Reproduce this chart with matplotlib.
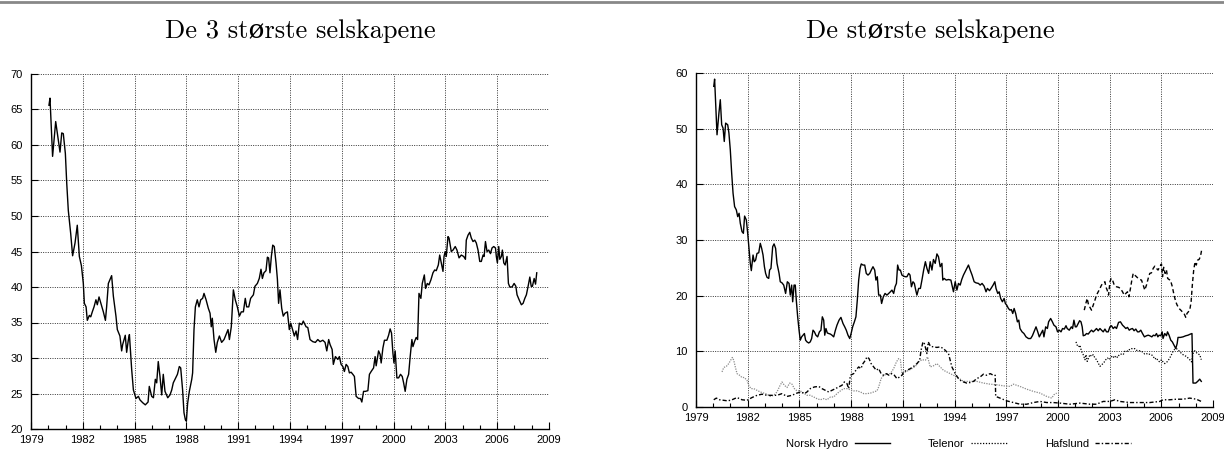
import matplotlib
matplotlib.use('Agg')
import matplotlib.pyplot as plt
from matplotlib.lines import Line2D

## Data (decimal year, value)
# Left panel: De 3 største selskapene
top3_year = [1980.04, 1980.10, 1980.25, 1980.43, 1980.53, 1980.68, 1980.78, 1980.87, 1980.99, 1981.07,
             1981.16, 1981.30, 1981.41, 1981.55, 1981.68, 1981.80, 1981.92, 1982.03, 1982.09, 1982.19,
             1982.26, 1982.38, 1982.46, 1982.55, 1982.65, 1982.76, 1982.84, 1982.94, 1983.05, 1983.19,
             1983.31, 1983.38, 1983.48, 1983.58, 1983.67, 1983.77, 1983.92, 1984.00, 1984.15, 1984.25,
             1984.31, 1984.46, 1984.54, 1984.64, 1984.70, 1984.83, 1984.93, 1985.08, 1985.22, 1985.31,
             1985.47, 1985.62, 1985.78, 1985.85, 1985.99, 1986.09, 1986.20, 1986.28, 1986.37, 1986.47,
             1986.57, 1986.66, 1986.76, 1986.92, 1987.05, 1987.15, 1987.24, 1987.34, 1987.48, 1987.59,
             1987.67, 1987.78, 1987.86, 1987.94, 1988.00, 1988.07, 1988.17, 1988.31, 1988.36, 1988.44,
             1988.52, 1988.63, 1988.73, 1988.83, 1988.94, 1989.02, 1989.14, 1989.27, 1989.37, 1989.44,
             1989.50, 1989.60, 1989.70, 1989.79, 1989.91, 1990.04, 1990.18, 1990.33, 1990.41, 1990.49,
             1990.60, 1990.72, 1990.83, 1990.95, 1991.07, 1991.18, 1991.30, 1991.41, 1991.49, 1991.61,
             1991.72, 1991.88, 1991.97, 1992.11, 1992.22, 1992.32, 1992.40, 1992.49, 1992.61, 1992.69,
             1992.76, 1992.84, 1992.92, 1993.00, 1993.09, 1993.19, 1993.27, 1993.34, 1993.42, 1993.52,
             1993.61, 1993.71, 1993.85, 1993.96, 1994.04, 1994.15, 1994.25, 1994.35, 1994.44, 1994.54,
             1994.68, 1994.77, 1994.93, 1995.03, 1995.16, 1995.32, 1995.47, 1995.61, 1995.74, 1995.90,
             1996.03, 1996.13, 1996.24, 1996.32, 1996.44, 1996.51, 1996.63, 1996.77, 1996.86, 1996.96,
             1997.06, 1997.15, 1997.25, 1997.35, 1997.44, 1997.54, 1997.64, 1997.73, 1997.83, 1997.97,
             1998.08, 1998.16, 1998.26, 1998.37, 1998.51, 1998.60, 1998.70, 1998.84, 1998.93, 1998.99,
             1999.13, 1999.22, 1999.28, 1999.38, 1999.47, 1999.61, 1999.71, 1999.80, 1999.88, 1999.96,
             2000.02, 2000.09, 2000.19, 2000.29, 2000.40, 2000.50, 2000.58, 2000.67, 2000.77, 2000.87,
             2000.96, 2001.06, 2001.12, 2001.21, 2001.31, 2001.39, 2001.47, 2001.58, 2001.66, 2001.78,
             2001.85, 2001.95, 2002.05, 2002.16, 2002.28, 2002.38, 2002.47, 2002.59, 2002.67, 2002.76,
             2002.86, 2002.92, 2002.99, 2003.05, 2003.15, 2003.21, 2003.34, 2003.44, 2003.57, 2003.67,
             2003.79, 2003.92, 2004.06, 2004.16, 2004.21, 2004.31, 2004.41, 2004.50, 2004.60, 2004.70,
             2004.79, 2004.89, 2004.99, 2005.08, 2005.18, 2005.24, 2005.32, 2005.41, 2005.51, 2005.61,
             2005.70, 2005.80, 2005.90, 2005.95, 2006.01, 2006.09, 2006.15, 2006.24, 2006.30, 2006.38,
             2006.46, 2006.57, 2006.65, 2006.73, 2006.86, 2006.98, 2007.08, 2007.15, 2007.27, 2007.40,
             2007.50, 2007.60, 2007.69, 2007.79, 2007.89, 2007.97, 2008.04, 2008.14, 2008.22, 2008.29]
top3_val = [65.6, 66.6, 58.4, 63.3, 61.6, 59.0, 61.7, 61.6, 58.8, 54.6,
            50.8, 47.5, 44.4, 46.2, 48.7, 44.3, 43.0, 40.5, 37.7, 37.2,
            35.3, 36.0, 35.8, 36.5, 37.2, 38.2, 37.5, 38.6, 37.7, 36.5,
            35.3, 37.2, 40.5, 41.1, 41.6, 38.7, 35.9, 34.0, 33.1, 31.0,
            31.9, 33.2, 30.8, 32.6, 33.3, 28.4, 25.5, 24.3, 24.6, 24.1,
            23.7, 23.4, 23.8, 26.0, 24.6, 24.4, 27.0, 26.5, 29.5, 27.4,
            24.8, 27.7, 25.3, 24.4, 24.8, 25.5, 26.5, 27.0, 27.7, 28.8,
            28.6, 25.5, 22.3, 21.3, 21.1, 23.6, 25.3, 27.0, 27.9, 34.0,
            37.2, 38.2, 37.2, 38.2, 38.4, 39.1, 38.2, 37.0, 36.3, 34.4,
            35.6, 32.6, 30.8, 32.2, 33.1, 32.2, 32.6, 33.5, 34.0, 32.6,
            34.4, 39.6, 38.2, 37.2, 35.9, 36.5, 36.5, 38.4, 37.2, 37.2,
            38.4, 38.9, 40.1, 40.5, 41.2, 42.5, 41.2, 42.0, 42.3, 44.2,
            44.1, 42.0, 44.3, 45.9, 45.7, 43.4, 41.1, 37.7, 39.6, 37.0,
            35.9, 36.3, 36.5, 34.0, 34.9, 34.0, 33.1, 33.8, 32.6, 34.9,
            34.7, 35.2, 34.4, 34.3, 32.6, 32.3, 32.2, 32.6, 32.3, 32.5,
            32.2, 31.0, 32.6, 31.9, 31.2, 29.1, 30.2, 29.8, 30.2, 29.1,
            28.8, 28.1, 29.1, 28.8, 27.9, 28.0, 27.7, 27.4, 24.6, 24.3,
            24.3, 23.8, 25.3, 25.3, 25.4, 27.7, 28.1, 28.6, 30.2, 28.9,
            31.0, 30.5, 29.3, 31.4, 32.5, 32.5, 33.2, 34.1, 33.5, 30.7,
            29.3, 31.0, 27.2, 27.2, 27.7, 27.4, 26.5, 25.3, 27.0, 27.7,
            30.2, 32.6, 31.6, 32.3, 32.9, 32.6, 39.1, 38.4, 40.5, 41.7,
            39.8, 40.5, 40.3, 41.0, 42.0, 42.4, 42.3, 43.1, 44.5, 43.4,
            42.2, 44.3, 45.0, 44.3, 47.1, 46.9, 45.0, 45.2, 45.7, 45.2,
            44.1, 44.5, 44.3, 43.9, 46.6, 47.3, 47.7, 46.9, 46.4, 46.6,
            46.2, 45.2, 43.6, 43.6, 44.5, 44.3, 46.4, 45.0, 45.2, 44.7,
            45.5, 45.7, 45.5, 44.3, 43.4, 45.7, 43.9, 44.3, 45.2, 43.4,
            43.1, 44.3, 40.5, 40.0, 40.0, 40.5, 40.1, 38.9, 38.2, 37.5,
            37.7, 38.4, 38.9, 40.1, 41.4, 40.1, 40.1, 41.2, 40.4, 42.0]

# Right panel: De største selskapene
hydro_year = [1980.03, 1980.08, 1980.22, 1980.33, 1980.41, 1980.49, 1980.57, 1980.64, 1980.72, 1980.84,
              1980.91, 1980.99, 1981.07, 1981.15, 1981.24, 1981.34, 1981.42, 1981.50, 1981.57, 1981.67,
              1981.75, 1981.82, 1981.92, 1982.00, 1982.08, 1982.15, 1982.21, 1982.31, 1982.38, 1982.46,
              1982.54, 1982.64, 1982.73, 1982.81, 1982.89, 1982.97, 1983.04, 1983.12, 1983.22, 1983.27,
              1983.35, 1983.45, 1983.53, 1983.62, 1983.70, 1983.82, 1983.89, 1983.99, 1984.09, 1984.20,
              1984.30, 1984.40, 1984.47, 1984.55, 1984.61, 1984.69, 1984.76, 1984.82, 1984.90, 1984.98,
              1985.05, 1985.13, 1985.21, 1985.29, 1985.36, 1985.44, 1985.54, 1985.63, 1985.71, 1985.79,
              1985.87, 1985.96, 1986.06, 1986.16, 1986.25, 1986.33, 1986.41, 1986.47, 1986.54, 1986.62,
              1986.70, 1986.80, 1986.89, 1986.99, 1987.09, 1987.18, 1987.30, 1987.41, 1987.53, 1987.63,
              1987.72, 1987.82, 1987.92, 1988.00, 1988.09, 1988.19, 1988.28, 1988.36, 1988.44, 1988.52,
              1988.59, 1988.69, 1988.79, 1988.88, 1988.98, 1989.08, 1989.17, 1989.27, 1989.37, 1989.44,
              1989.52, 1989.60, 1989.70, 1989.77, 1989.87, 1989.97, 1990.08, 1990.18, 1990.28, 1990.37,
              1990.47, 1990.55, 1990.63, 1990.70, 1990.78, 1990.86, 1990.95, 1991.05, 1991.15, 1991.24,
              1991.34, 1991.42, 1991.50, 1991.59, 1991.67, 1991.75, 1991.82, 1991.92, 1992.02, 1992.11,
              1992.21, 1992.31, 1992.40, 1992.50, 1992.59, 1992.69, 1992.78, 1992.88, 1992.98, 1993.07,
              1993.17, 1993.27, 1993.32, 1993.40, 1993.52, 1993.65, 1993.79, 1993.94, 1994.04, 1994.14,
              1994.23, 1994.33, 1994.42, 1994.52, 1994.68, 1994.81, 1994.91, 1995.02, 1995.14, 1995.25,
              1995.39, 1995.49, 1995.60, 1995.72, 1995.83, 1995.91, 1996.03, 1996.12, 1996.24, 1996.34,
              1996.41, 1996.51, 1996.59, 1996.68, 1996.78, 1996.88, 1996.95, 1997.03, 1997.13, 1997.22,
              1997.30, 1997.38, 1997.46, 1997.55, 1997.65, 1997.73, 1997.80, 1997.92, 1998.03, 1998.15,
              1998.29, 1998.42, 1998.52, 1998.61, 1998.73, 1998.83, 1998.92, 1999.02, 1999.12, 1999.19,
              1999.29, 1999.39, 1999.46, 1999.58, 1999.68, 1999.77, 1999.89, 1999.98, 2000.08, 2000.18,
              2000.27, 2000.37, 2000.47, 2000.54, 2000.66, 2000.78, 2000.85, 2000.93, 2001.01, 2001.08,
              2001.18, 2001.26, 2001.34, 2001.41, 2001.47, 2001.57, 2001.66, 2001.76, 2001.86, 2001.95,
              2002.05, 2002.15, 2002.24, 2002.34, 2002.44, 2002.53, 2002.63, 2002.73, 2002.82, 2002.92,
              2003.02, 2003.11, 2003.21, 2003.31, 2003.40, 2003.52, 2003.63, 2003.75, 2003.85, 2003.94,
              2004.04, 2004.14, 2004.23, 2004.33, 2004.42, 2004.52, 2004.62, 2004.71, 2004.81, 2004.91,
              2005.02, 2005.14, 2005.24, 2005.33, 2005.45, 2005.54, 2005.64, 2005.72, 2005.80, 2005.87,
              2005.97, 2006.05, 2006.10, 2006.20, 2006.30, 2006.36, 2006.45, 2006.55, 2006.64, 2006.74,
              2006.84, 2006.92, 2006.97, 2007.11, 2007.26, 2007.42, 2007.55, 2007.69, 2007.78, 2007.84,
              2008.00, 2008.11, 2008.23, 2008.32]
hydro_val = [57.6, 58.9, 48.9, 52.8, 55.2, 50.7, 50.1, 47.7, 51.0, 50.7,
             49.2, 46.2, 42.0, 38.4, 36.0, 35.4, 34.2, 34.8, 33.0, 31.5,
             31.2, 34.3, 33.6, 31.2, 28.2, 25.8, 24.5, 27.3, 26.1, 26.4,
             27.6, 27.7, 29.4, 28.5, 27.3, 25.2, 24.0, 23.3, 23.1, 24.6,
             24.9, 28.8, 29.3, 28.5, 25.8, 24.0, 22.5, 22.3, 21.9, 20.4,
             22.5, 22.2, 20.1, 21.9, 18.9, 21.9, 21.9, 19.2, 16.2, 13.8,
             12.0, 12.6, 12.9, 13.2, 12.0, 11.7, 11.5, 11.7, 12.3, 13.8,
             13.5, 12.9, 12.6, 13.5, 13.8, 16.2, 15.6, 12.9, 14.1, 13.3,
             13.2, 13.1, 12.9, 12.6, 13.8, 14.7, 15.6, 16.1, 15.0, 14.4,
             13.8, 12.9, 12.3, 13.2, 14.4, 15.3, 16.2, 19.2, 22.8, 24.9,
             25.7, 25.5, 25.5, 24.0, 23.7, 24.0, 24.6, 25.2, 24.6, 22.8,
             23.4, 20.1, 20.1, 18.6, 19.8, 20.4, 20.1, 20.4, 20.7, 21.0,
             20.4, 21.6, 22.2, 25.5, 24.6, 24.6, 23.7, 23.5, 23.4, 23.4,
             24.0, 23.7, 21.6, 22.5, 22.2, 21.0, 20.1, 21.3, 21.3, 22.8,
             24.6, 26.1, 24.9, 24.0, 26.1, 24.6, 26.5, 25.8, 27.5, 27.0,
             25.2, 25.8, 22.8, 23.1, 22.8, 22.9, 22.8, 20.7, 22.5, 21.0,
             22.2, 21.9, 22.9, 23.7, 24.7, 25.5, 24.6, 23.7, 22.5, 22.3,
             22.2, 21.9, 22.2, 21.7, 20.7, 21.3, 20.9, 21.3, 21.9, 22.5,
             21.3, 20.4, 20.7, 19.5, 18.9, 19.5, 18.6, 18.3, 17.7, 17.4,
             17.5, 16.8, 17.7, 16.8, 15.3, 15.6, 14.1, 13.5, 13.2, 12.6,
             12.3, 12.3, 12.8, 13.5, 14.4, 13.5, 12.6, 13.2, 13.8, 12.6,
             14.4, 14.1, 15.3, 15.9, 15.3, 14.7, 14.4, 13.5, 13.8, 13.5,
             14.1, 14.0, 14.6, 14.1, 13.8, 14.4, 14.1, 15.6, 14.4, 14.4,
             15.0, 15.5, 15.3, 14.4, 12.8, 12.9, 13.2, 13.1, 13.5, 13.8,
             13.5, 13.8, 14.1, 13.7, 14.1, 13.8, 13.5, 14.0, 13.5, 13.5,
             14.4, 14.6, 14.1, 14.4, 14.1, 15.2, 15.3, 14.7, 14.4, 14.1,
             14.3, 13.8, 14.0, 14.1, 13.7, 14.0, 13.5, 13.5, 13.8, 13.2,
             12.6, 12.8, 12.9, 12.8, 12.6, 12.9, 12.8, 13.2, 12.6, 12.9,
             12.8, 13.5, 12.3, 13.2, 12.8, 13.5, 12.9, 12.0, 11.7, 11.1,
             10.5, 11.4, 12.5, 12.5, 12.6, 12.8, 12.9, 13.1, 13.2, 4.3,
             4.3, 4.6, 5.0, 4.6]

statoil_year = [2001.53, 2001.63, 2001.70, 2001.78, 2001.86, 2001.95, 2002.05, 2002.15, 2002.24, 2002.34,
                2002.44, 2002.53, 2002.63, 2002.73, 2002.78, 2002.86, 2002.94, 2003.02, 2003.09, 2003.17,
                2003.27, 2003.40, 2003.52, 2003.63, 2003.75, 2003.85, 2003.94, 2004.04, 2004.12, 2004.21,
                2004.29, 2004.37, 2004.46, 2004.56, 2004.66, 2004.75, 2004.85, 2004.95, 2005.04, 2005.14,
                2005.24, 2005.33, 2005.43, 2005.53, 2005.62, 2005.72, 2005.81, 2005.91, 2006.01, 2006.07,
                2006.14, 2006.22, 2006.30, 2006.37, 2006.45, 2006.53, 2006.64, 2006.74, 2006.84, 2006.92,
                2007.03, 2007.13, 2007.22, 2007.32, 2007.42, 2007.49, 2007.57, 2007.65, 2007.73, 2007.80,
                2007.88, 2007.96, 2008.03, 2008.11, 2008.19, 2008.27, 2008.34]
statoil_val = [17.4, 18.7, 19.5, 18.3, 17.9, 17.4, 18.3, 19.2, 20.1, 20.7,
               21.3, 21.9, 22.3, 22.5, 21.6, 21.0, 20.1, 22.5, 23.1, 22.8,
               21.9, 21.6, 21.5, 21.3, 20.7, 20.1, 20.4, 20.7, 19.8, 21.3,
               22.8, 24.0, 23.7, 23.4, 23.1, 22.9, 22.8, 21.9, 21.0, 21.9,
               23.1, 24.0, 24.1, 24.9, 25.3, 24.9, 24.6, 25.2, 25.7, 23.4,
               25.1, 24.0, 24.6, 23.1, 22.9, 22.8, 21.6, 20.1, 18.9, 18.3,
               17.7, 17.4, 17.1, 16.8, 16.1, 16.8, 17.1, 17.4, 18.9, 21.9,
               24.6, 26.1, 25.5, 26.4, 26.5, 27.0, 28.2]

telenor_year = [2001.05, 2001.12, 2001.20, 2001.28, 2001.37, 2001.47, 2001.57, 2001.63, 2001.70, 2001.78,
                2001.86, 2001.95, 2002.05, 2002.15, 2002.24, 2002.34, 2002.44, 2002.55, 2002.67, 2002.78,
                2002.88, 2002.98, 2003.07, 2003.17, 2003.27, 2003.36, 2003.46, 2003.56, 2003.67, 2003.79,
                2003.88, 2003.98, 2004.08, 2004.17, 2004.27, 2004.37, 2004.46, 2004.56, 2004.66, 2004.75,
                2004.85, 2004.95, 2005.04, 2005.14, 2005.24, 2005.33, 2005.43, 2005.53, 2005.62, 2005.72,
                2005.81, 2005.91, 2006.01, 2006.10, 2006.20, 2006.30, 2006.39, 2006.49, 2006.59, 2006.68,
                2006.78, 2006.88, 2006.97, 2007.07, 2007.17, 2007.26, 2007.36, 2007.46, 2007.55, 2007.65,
                2007.75, 2007.84, 2007.94, 2008.03, 2008.13, 2008.23, 2008.32]
telenor_val = [11.7, 11.1, 10.8, 11.1, 10.0, 9.4, 8.5, 9.4, 8.2, 8.8,
               9.4, 9.1, 9.4, 8.8, 8.5, 7.9, 7.3, 7.6, 8.0, 8.5,
               8.8, 8.5, 8.9, 9.2, 8.8, 9.2, 8.9, 9.4, 9.5, 9.4,
               10.0, 10.1, 10.0, 10.4, 10.5, 10.4, 10.5, 10.2, 10.1, 10.1,
               10.0, 9.8, 9.5, 9.6, 9.4, 9.5, 9.4, 9.1, 8.6, 8.8,
               8.3, 8.1, 8.5, 8.1, 7.8, 8.0, 8.3, 8.8, 9.4, 10.0,
               10.4, 10.5, 10.2, 10.0, 9.6, 9.4, 9.2, 9.1, 8.8, 8.5,
               8.1, 9.6, 10.1, 9.8, 9.5, 9.4, 8.5]

hafslund_year = [1980.03, 1980.18, 1980.37, 1980.61, 1980.84, 1981.09, 1981.38, 1981.67, 1981.96, 1982.25,
                 1982.54, 1982.83, 1983.12, 1983.41, 1983.70, 1983.99, 1984.28, 1984.57, 1984.86, 1985.09,
                 1985.29, 1985.44, 1985.63, 1985.87, 1986.12, 1986.31, 1986.50, 1986.70, 1986.89, 1987.09,
                 1987.28, 1987.47, 1987.61, 1987.76, 1987.86, 1987.96, 1988.15, 1988.30, 1988.44, 1988.57,
                 1988.69, 1988.83, 1988.92, 1989.04, 1989.16, 1989.31, 1989.46, 1989.60, 1989.74, 1989.89,
                 1990.04, 1990.20, 1990.35, 1990.51, 1990.66, 1990.82, 1990.95, 1991.05, 1991.24, 1991.44,
                 1991.63, 1991.82, 1991.98, 1992.06, 1992.17, 1992.25, 1992.33, 1992.40, 1992.48, 1992.60,
                 1992.79, 1992.98, 1993.17, 1993.36, 1993.65, 1993.85, 1994.04, 1994.23, 1994.42, 1994.71,
                 1994.91, 1995.10, 1995.29, 1995.49, 1995.68, 1995.87, 1996.07, 1996.26, 1996.36, 1996.39,
                 1996.64, 1997.03, 1997.42, 1997.80, 1998.19, 1998.58, 1998.96, 1999.35, 1999.73, 2000.12,
                 2000.70, 2001.28, 2001.86, 2002.24, 2002.63, 2003.02, 2003.31, 2003.59, 2004.17, 2004.75,
                 2005.33, 2005.91, 2006.10, 2006.49, 2006.88, 2007.26, 2007.65, 2008.03, 2008.32]
hafslund_val = [1.3, 1.6, 1.3, 1.2, 1.1, 1.3, 1.7, 1.3, 1.2, 1.7,
                2.1, 2.3, 2.1, 2.1, 2.1, 2.4, 1.9, 2.1, 2.5, 2.7,
                2.4, 2.7, 3.3, 3.6, 3.7, 3.3, 3.0, 2.7, 3.0, 3.3,
                3.6, 3.9, 4.5, 4.2, 3.3, 5.7, 6.0, 6.7, 7.2, 6.9,
                7.8, 8.4, 9.0, 8.7, 7.8, 7.2, 6.6, 6.9, 6.0, 5.7,
                6.0, 5.7, 6.0, 5.7, 5.1, 5.4, 5.7, 6.3, 6.6, 6.9,
                7.3, 7.8, 8.4, 10.2, 11.7, 11.4, 10.5, 9.6, 11.7, 10.9,
                10.8, 10.7, 10.8, 10.5, 9.6, 7.2, 6.0, 5.1, 4.6, 4.3,
                4.4, 4.6, 5.1, 5.4, 5.9, 5.7, 6.0, 5.7, 5.7, 1.9,
                1.6, 1.1, 0.8, 0.5, 0.5, 0.8, 1.0, 0.8, 0.8, 0.7,
                0.5, 0.7, 0.5, 0.5, 1.0, 1.0, 1.3, 1.0, 0.8, 0.8,
                0.8, 1.0, 1.3, 1.3, 1.4, 1.4, 1.6, 1.4, 1.0]

saga_year = [1980.51, 1980.61, 1980.76, 1980.90, 1981.03, 1981.11, 1981.19, 1981.28, 1981.38, 1981.53,
             1981.67, 1981.80, 1981.96, 1982.06, 1982.19, 1982.35, 1982.54, 1982.73, 1982.93, 1983.12,
             1983.31, 1983.51, 1983.70, 1983.85, 1983.99, 1984.13, 1984.28, 1984.44, 1984.57, 1984.71,
             1984.86, 1985.05, 1985.25, 1985.44, 1985.63, 1985.83, 1986.02, 1986.21, 1986.41, 1986.60,
             1986.80, 1986.99, 1987.18, 1987.38, 1987.57, 1987.76, 1987.96, 1988.15, 1988.34, 1988.54,
             1988.73, 1988.92, 1989.12, 1989.31, 1989.50, 1989.60, 1989.74, 1989.89, 1990.08, 1990.28,
             1990.47, 1990.63, 1990.76, 1990.86, 1990.95, 1991.15, 1991.34, 1991.53, 1991.73, 1991.92,
             1992.11, 1992.31, 1992.44, 1992.59, 1992.78, 1992.98, 1993.36, 1993.75, 1994.14, 1994.52,
             1994.91, 1995.29, 1995.68, 1996.07, 1996.45, 1996.84, 1997.22, 1997.42, 1997.80, 1998.19,
             1998.58, 1998.96, 1999.35, 1999.64, 1999.77, 1999.93]
saga_val = [6.3, 7.1, 7.3, 7.8, 8.5, 8.9, 8.4, 7.2, 6.0, 5.7,
            5.3, 5.3, 4.8, 3.9, 3.3, 3.3, 3.0, 2.7, 2.5, 2.3,
            1.9, 2.1, 2.7, 3.7, 4.5, 3.9, 3.5, 4.3, 4.1, 3.3,
            2.9, 2.9, 2.5, 2.1, 2.1, 1.8, 1.5, 1.3, 1.5, 1.3,
            1.8, 1.8, 2.4, 2.9, 3.3, 3.3, 3.1, 2.9, 2.9, 2.7,
            2.4, 2.4, 2.5, 2.7, 2.9, 3.6, 5.1, 5.7, 5.9, 6.0,
            6.9, 8.1, 8.7, 8.5, 6.0, 6.3, 6.6, 6.9, 7.3, 8.1,
            8.5, 8.4, 9.0, 7.2, 7.4, 7.8, 6.6, 6.0, 5.4, 4.6,
            4.6, 4.6, 4.3, 4.1, 4.0, 3.8, 3.7, 4.1, 3.7, 3.2,
            2.8, 2.5, 1.9, 1.6, 2.2, 2.5]

## Styling
plt.rcParams['font.family'] = ['Liberation Sans', 'DejaVu Sans']
title_font = ['cmr10', 'DejaVu Serif']
tick_size = 8
grid_style = dict(color='#333333', linestyle=(0, (1, 1.4)), linewidth=0.7)


def style_axes(ax, ymin, ymax, ystep):
    ax.set_xlim(1979, 2009)
    ax.set_ylim(ymin, ymax)
    ax.set_xticks(range(1979, 2010, 3))
    ax.set_xticks(range(1979, 2010), minor=True)
    ax.set_yticks(range(ymin, ymax + 1, ystep))
    ax.grid(True, which='major', **grid_style)
    ax.set_axisbelow(True)
    for side in ['top', 'right']:
        ax.spines[side].set_visible(False)
    for side in ['left', 'bottom']:
        ax.spines[side].set_linewidth(1.0)
    ax.tick_params(which='both', direction='in', top=False, right=False, labelsize=tick_size)
    ax.tick_params(which='major', length=5, width=0.8)
    ax.tick_params(which='minor', length=3, width=0.8)
    ax.tick_params(axis='x', pad=4)
    ax.tick_params(axis='y', pad=6)


fig = plt.figure(figsize=(12.24, 4.5), dpi=100)

# thin grey rule across the top of the page
fig.add_artist(Line2D([0, 1], [1 - 2 / 450, 1 - 2 / 450], color='#888888', lw=2.0))

ax1 = fig.add_axes([31 / 1224, 21 / 450, 518 / 1224, 355 / 450])
ax1.plot(top3_year, top3_val, color='black', lw=1.0)
style_axes(ax1, 20, 70, 5)
fig.text(300 / 1224, 1 - 38 / 450, 'De 3 største selskapene', ha='center', va='baseline',
         fontsize=19, family=title_font)

ax2 = fig.add_axes([696 / 1224, 43 / 450, 517 / 1224, 334 / 450])
ax2.plot(hydro_year, hydro_val, color='black', lw=1.0, label='Norsk Hydro')
ax2.plot(statoil_year, statoil_val, color='black', lw=1.0, linestyle=(0, (3, 2)), label='Statoil')
ax2.plot(telenor_year, telenor_val, color='black', lw=0.9, linestyle=(0, (1, 1.3)), label='Telenor')
ax2.plot(saga_year, saga_val, color='#8a8a8a', lw=0.9, linestyle=(0, (1, 1.0)), label='Saga')
ax2.plot(hafslund_year, hafslund_val, color='black', lw=1.0, linestyle=(0, (3, 1.5, 1, 1.5)), label='Hafslund')
style_axes(ax2, 0, 60, 10)
fig.text(930 / 1224, 1 - 38 / 450, 'De største selskapene', ha='center', va='baseline',
         fontsize=19, family=title_font)

# legend sits at the page edge, its second row runs off the bottom as in the source
handles, labels = ax2.get_legend_handles_labels()
fig.legend(handles, labels, ncol=3, loc='upper center', bbox_to_anchor=(0.783, 0.036),
           frameon=False, markerfirst=False, fontsize=tick_size, handlelength=3.2,
           columnspacing=3.4, labelspacing=0.25, borderpad=0, handletextpad=0.6)

fig.savefig('out.png', dpi=100)
